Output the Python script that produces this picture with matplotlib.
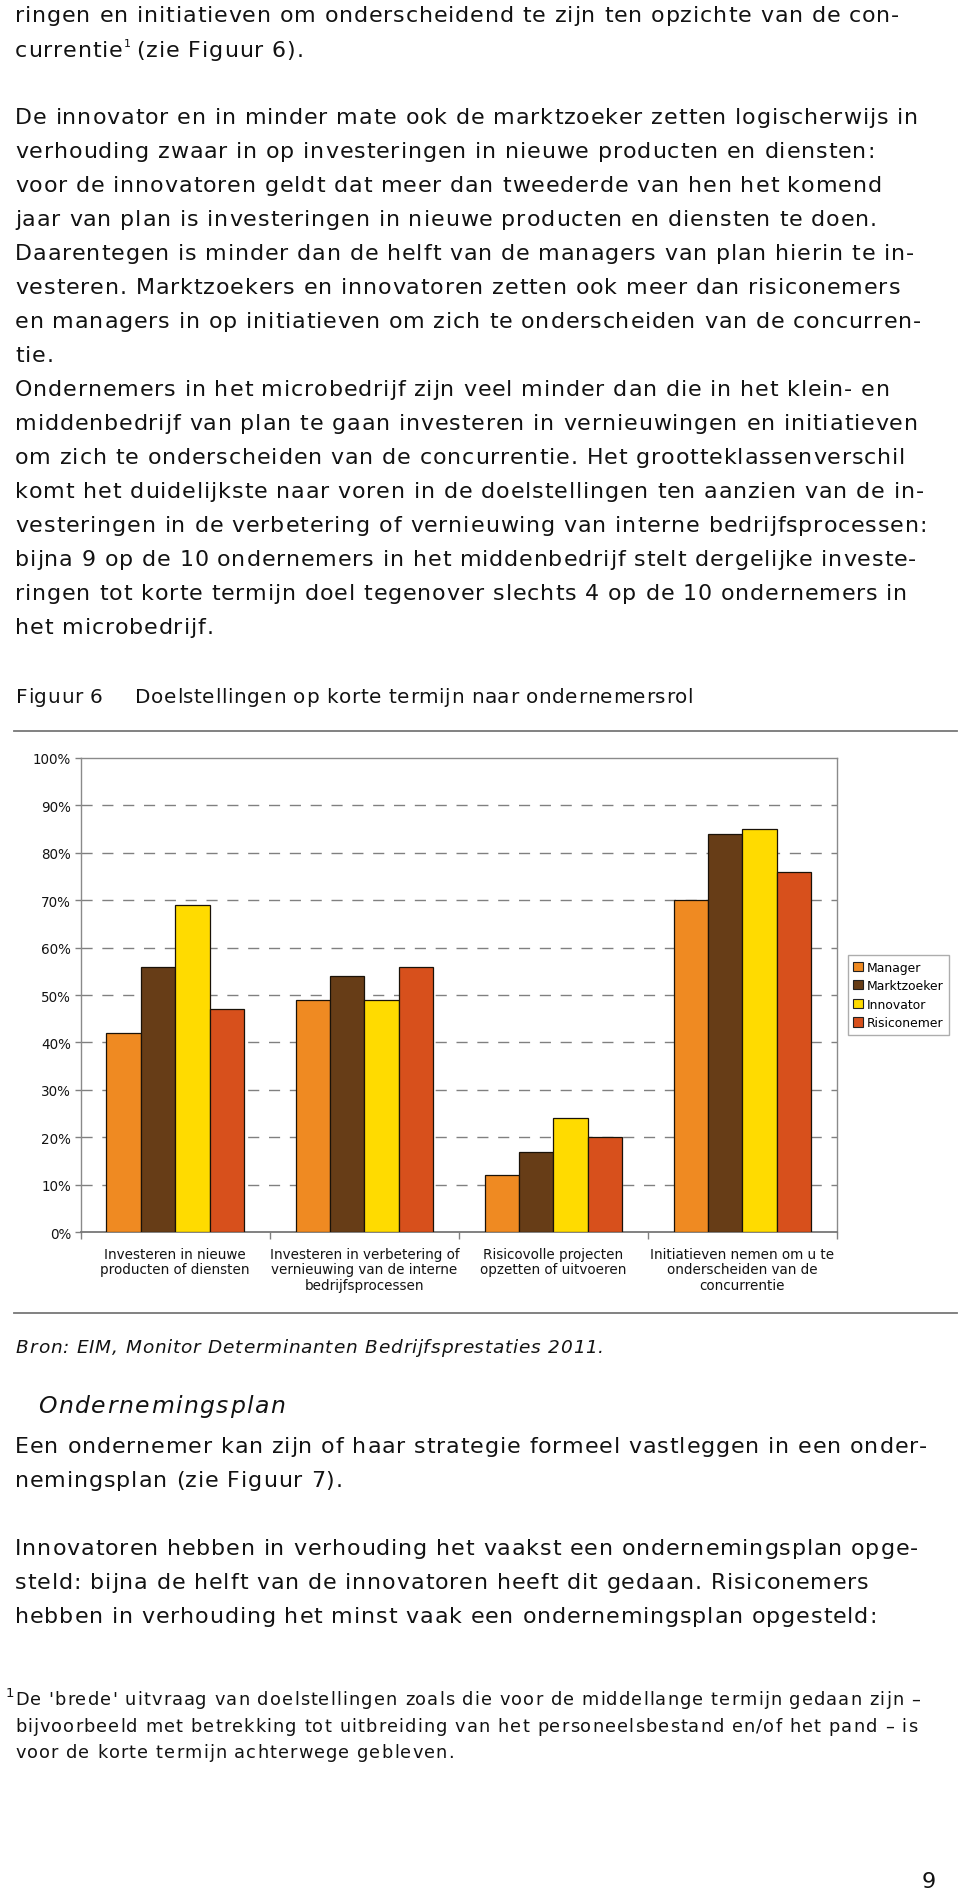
import matplotlib
matplotlib.use("Agg")
import matplotlib.pyplot as plt
import numpy as np
from matplotlib.font_manager import findfont, FontProperties
from matplotlib import ft2font

# ---------------- data ----------------
categories = [
    "Investeren in nieuwe\nproducten of diensten",
    "Investeren in verbetering of\nvernieuwing van de interne\nbedrijfsprocessen",
    "Risicovolle projecten\nopzetten of uitvoeren",
    "Initiatieven nemen om u te\nonderscheiden van de\nconcurrentie",
]
series_names = ["Manager", "Marktzoeker", "Innovator", "Risiconemer"]
manager = [42, 49, 12, 70]
marktzoeker = [56, 54, 17, 84]
innovator = [69, 49, 24, 85]
risiconemer = [47, 56, 20, 76]
series_colors = ["#EF8A22", "#673D17", "#FFDB00", "#D7501C"]
yticks = [0, 10, 20, 30, 40, 50, 60, 70, 80, 90, 100]
ytick_labels = ["0%", "10%", "20%", "30%", "40%", "50%", "60%", "70%", "80%", "90%", "100%"]

para1 = [
    "ringen en initiatieven om onderscheidend te zijn ten opzichte van de con-",
]
para2 = [
    "De innovator en in minder mate ook de marktzoeker zetten logischerwijs in",
    "verhouding zwaar in op investeringen in nieuwe producten en diensten:",
    "voor de innovatoren geldt dat meer dan tweederde van hen het komend",
    "jaar van plan is investeringen in nieuwe producten en diensten te doen.",
    "Daarentegen is minder dan de helft van de managers van plan hierin te in-",
    "vesteren. Marktzoekers en innovatoren zetten ook meer dan risiconemers",
    "en managers in op initiatieven om zich te onderscheiden van de concurren-",
    "tie.",
    "Ondernemers in het microbedrijf zijn veel minder dan die in het klein- en",
    "middenbedrijf van plan te gaan investeren in vernieuwingen en initiatieven",
    "om zich te onderscheiden van de concurrentie. Het grootteklassenverschil",
    "komt het duidelijkste naar voren in de doelstellingen ten aanzien van de in-",
    "vesteringen in de verbetering of vernieuwing van interne bedrijfsprocessen:",
    "bijna 9 op de 10 ondernemers in het middenbedrijf stelt dergelijke investe-",
    "ringen tot korte termijn doel tegenover slechts 4 op de 10 ondernemers in",
    "het microbedrijf.",
]
para3 = [
    "Een ondernemer kan zijn of haar strategie formeel vastleggen in een onder-",
    "nemingsplan (zie Figuur 7).",
]
para4 = [
    "Innovatoren hebben in verhouding het vaakst een ondernemingsplan opge-",
    "steld: bijna de helft van de innovatoren heeft dit gedaan. Risiconemers",
    "hebben in verhouding het minst vaak een ondernemingsplan opgesteld:",
]
footnote = [
    "De 'brede' uitvraag van doelstellingen zoals die voor de middellange termijn gedaan zijn \u2013",
    "bijvoorbeeld met betrekking tot uitbreiding van het personeelsbestand en/of het pand \u2013 is",
    "voor de korte termijn achterwege gebleven.",
]

# ---------------- figure ----------------
W, H = 960, 1890
fig = plt.figure(figsize=(W / 100, H / 100), dpi=100)
fig.patch.set_facecolor("white")
FAM = "DejaVu Sans"
TXT = "#121212"
renderer = fig.canvas.get_renderer()

try:
    NOHINT = ft2font.LoadFlags.NO_HINTING
except AttributeError:
    NOHINT = ft2font.LOAD_NO_HINTING

_fonts = {}
CAL = "Hamburgevons minder mate ook de marktzoeker 0123 WIJS"


def _raw_adv(f, s):
    return [f.load_char(ord(c), flags=NOHINT).linearHoriAdvance for c in s]


def advances(s, size_pt, style="normal"):
    key = (style, size_pt)
    if key not in _fonts:
        f = ft2font.FT2Font(findfont(FontProperties(family=FAM, style=style)))
        f.set_size(size_pt, 100)
        # calibrate raw advance units against matplotlib's own measured width
        t = fig.text(0, 0, CAL, fontsize=size_pt, family=FAM, style=style)
        wpx = t.get_window_extent(renderer=renderer).width
        t.remove()
        scale = wpx / sum(_raw_adv(f, CAL))
        _fonts[key] = (f, scale)
    f, scale = _fonts[key]
    return [a * scale for a in _raw_adv(f, s)]


def fx(x):
    return x / W


def fy(y):
    return 1 - y / H


def px(size_px):
    return size_px * 0.72


def track_for(s, size_pt, width, style="normal"):
    a = advances(s, size_pt, style)
    return (width - sum(a)) / (len(s) - 1)


def tracked(x, y, s, size_pt, track, style="normal", color=TXT):
    a = advances(s, size_pt, style)
    cx = x
    for c, adv in zip(s, a):
        if c != " ":
            fig.text(fx(cx), fy(y), c, fontsize=size_pt, family=FAM, style=style,
                     color=color, va="baseline", ha="left")
        cx += adv + track
    return cx


LEFT = 15
body_fs = px(22.2)
body_tr = track_for(para2[0], body_fs, 903)

# paragraph 1
tracked(LEFT, 22, para1[0], body_fs, body_tr)
xe = tracked(LEFT, 57, "currentie", body_fs, body_tr)
tracked(xe, 47, "1", body_fs * 0.5, 0)
tracked(xe + 5, 57, " (zie Figuur 6).", body_fs, body_tr)

# paragraph 2
for i, line in enumerate(para2):
    tracked(LEFT, 124.3 + 34.0 * i, line, body_fs, body_tr)

# figure title
title_fs = px(20)
ttl = "Doelstellingen op korte termijn naar ondernemersrol"
t_tr = track_for(ttl, title_fs, 558)
tracked(16, 703, "Figuur 6", title_fs, t_tr)
tracked(135, 703, ttl, title_fs, t_tr)
fig.add_artist(plt.Line2D([fx(14), fx(957)], [fy(731.7), fy(731.7)], color="#777777", lw=1.3))
fig.add_artist(plt.Line2D([fx(14), fx(957)], [fy(1314), fy(1314)], color="#777777", lw=1.3))

# ---------------- chart ----------------
ax_l, ax_r, ax_t, ax_b = 80.7, 837.0, 758.7, 1233.3
ax = fig.add_axes([fx(ax_l), fy(ax_b), (ax_r - ax_l) / W, (ax_b - ax_t) / H])
values = [manager, marktzoeker, innovator, risiconemer]
n = len(series_names)
bw = 1 / 5.5
x = np.arange(len(categories))
for k, (name, vals, col) in enumerate(zip(series_names, values, series_colors)):
    ax.bar(x + (k - (n - 1) / 2) * bw, vals, width=bw, color=col, edgecolor="#1a1208",
           linewidth=0.9, label=name, zorder=3)
ax.set_xlim(-0.5, len(categories) - 0.5)
ax.set_ylim(0, 100)
ax.set_yticks(yticks)
ax.set_yticklabels(ytick_labels, fontsize=px(13.5), color=TXT, family=FAM)
for yv in yticks[1:-1]:
    ax.axhline(yv, color="#808080", lw=1.0, dashes=(8, 7), zorder=1)
for side in ["left", "right", "top"]:
    ax.spines[side].set_color("#8a8a8a")
    ax.spines[side].set_linewidth(1.0)
ax.spines["bottom"].set_color("#777777")
ax.spines["bottom"].set_linewidth(1.3)
ax.tick_params(axis="y", length=4, width=1, color="#808080", pad=3)
ax.set_xticks(np.arange(-0.5, len(categories), 1.0))
ax.set_xticklabels([])
ax.tick_params(axis="x", length=5, width=1, color="#808080")
for i, cat in enumerate(categories):
    ax.text(i, -3.1, cat, ha="center", va="top", fontsize=px(13.5), family=FAM,
            color=TXT, linespacing=1.12, transform=ax.transData)

leg = fig.legend(*ax.get_legend_handles_labels(), loc="upper left",
                 bbox_to_anchor=(fx(847.7), fy(956)), frameon=True, fancybox=False,
                 prop={"family": FAM, "size": px(12.4)}, handlelength=0.75, handleheight=0.75,
                 handletextpad=0.3, borderpad=0.45, labelspacing=0.45, borderaxespad=0)
leg.get_frame().set_edgecolor("#999999")
leg.get_frame().set_linewidth(1.0)
for h in leg.legend_handles:
    h.set_edgecolor("#222222")
    h.set_linewidth(0.8)

# ---------------- below chart ----------------
bron = "Bron: EIM, Monitor Determinanten Bedrijfsprestaties 2011."
bron_fs = px(18.5)
tracked(16, 1353, bron, bron_fs, track_for(bron, bron_fs, 588, "italic"), style="italic")

head = "Ondernemingsplan"
head_fs = px(23.5)
tracked(38.3, 1412.7, head, head_fs, track_for(head, head_fs, 247, "italic"), style="italic")

for i, line in enumerate(para3):
    tracked(LEFT, 1453 + 34.0 * i, line, body_fs, body_tr)
for i, line in enumerate(para4):
    tracked(LEFT, 1555 + 34.0 * i, line, body_fs, body_tr)

foot_fs = px(17.8)
foot_tr = track_for(footnote[0], foot_fs, 905)
tracked(6, 1697, "1", foot_fs * 0.75, 0)
for i, line in enumerate(footnote):
    tracked(LEFT, 1705 + 26.7 * i, line, foot_fs, foot_tr)

tracked(922, 1888, "9", px(22.5), 0)

fig.savefig("out.png", dpi=100, facecolor="white")
